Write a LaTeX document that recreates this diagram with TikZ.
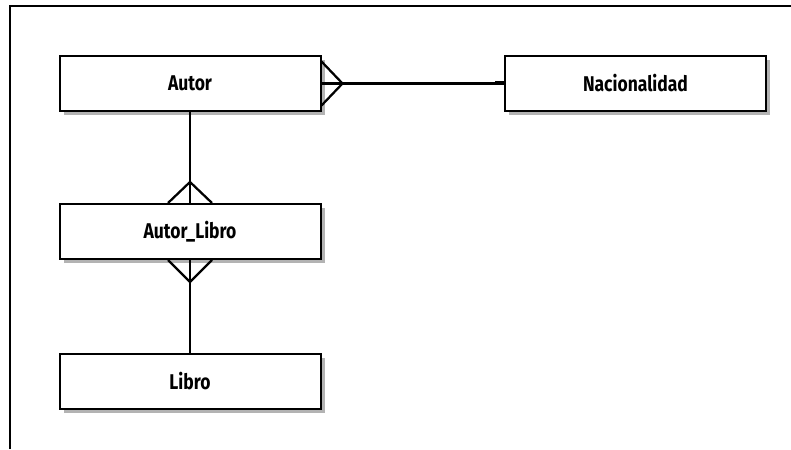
\documentclass[tikz,border=0pt]{standalone}
\usepackage{fontspec}
\setmainfont{Fira Sans}[FakeStretch=0.82]
\usetikzlibrary{positioning,calc,shadows}

\begin{document}
\begin{tikzpicture}[x=0.75pt, y=-0.75pt,
                    entity/.style={rectangle, draw, line width=1.5pt, fill=white,
                                   minimum width=195.75pt, minimum height=41.25pt,
                                   font=\fontsize{16}{18}\selectfont\bfseries,
                                   drop shadow={shadow xshift=3pt, shadow yshift=-3pt, fill=black!50, opacity=0.6}},
                    link/.style={line width=1.7pt}]
    \useasboundingbox (0,0) rectangle (791,449);
    % frame
    \draw[line width=1.1pt] (10,449) -- (10,6) -- (791,6);

    \node[entity] (autor) at (190,83.5) {Autor};
    \node[entity] (nacion) at (635.5,83.5) {Nacionalidad};
    \node[entity] (autorlibro) at (190,231.5) {Autor\_Libro};
    \node[entity] (libro) at (190,381) {Libro};

    % Autor -- Nacionalidad (many side at Autor)
    \coordinate (c1) at ($(autor.east)+(21,0)$);
    \draw[link] (autor.east) -- (nacion.west);
    \draw[link] ($(autor.east)+(0,-22)$) -- (c1) -- ($(autor.east)+(0,22)$);
    \draw[line width=3pt] ($(nacion.west)+(-9,0)$) -- (nacion.west);

    % Autor -- Autor_Libro
    \coordinate (c2) at ($(autorlibro.north)+(0,-21)$);
    \draw[link] (autor.south) -- (autorlibro.north);
    \draw[link] ($(autorlibro.north)+(-22,0)$) -- (c2) -- ($(autorlibro.north)+(22,0)$);

    % Autor_Libro -- Libro
    \coordinate (c3) at ($(autorlibro.south)+(0,22)$);
    \draw[link] (autorlibro.south) -- (libro.north);
    \draw[link] ($(autorlibro.south)+(-22,0)$) -- (c3) -- ($(autorlibro.south)+(22,0)$);
\end{tikzpicture}
\end{document}
